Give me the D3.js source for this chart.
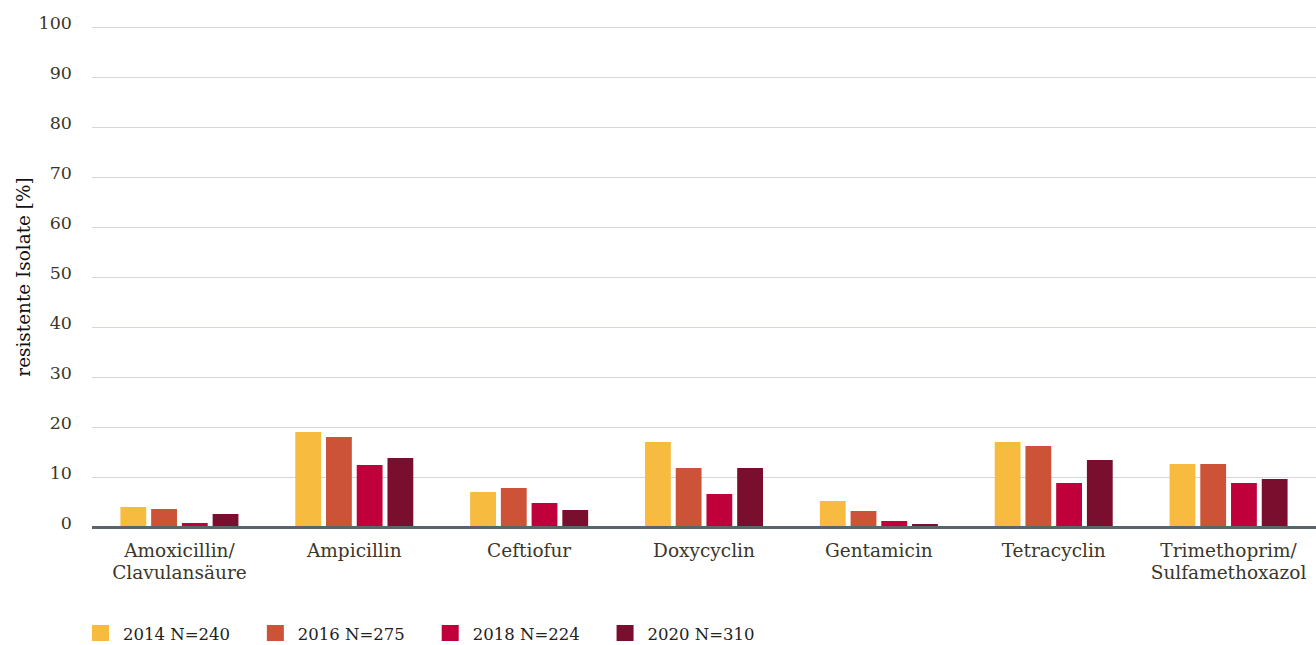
<!DOCTYPE html>
<html>
<head>
<meta charset="utf-8">
<script src="https://cdn.jsdelivr.net/npm/d3@7"></script>
<style>
  body { margin: 0; background: #fff; }
  svg { display: block; font-family: "DejaVu Serif", serif; }
  .tick text { fill: #3b3728; }
  .grid-line { stroke: #d3d6da; stroke-width: 1; }
</style>
</head>
<body>
<svg id="chart" width="1316" height="645"></svg>
<script>
const categories = ["Amoxicillin/\nClavulansäure", "Ampicillin", "Ceftiofur", "Doxycyclin", "Gentamicin", "Tetracyclin", "Trimethoprim/\nSulfamethoxazol"];
const years = ["2014 N=240", "2016 N=275", "2018 N=224", "2020 N=310"];
const colors = ["#f6bb3f", "#cc5238", "#c0003a", "#7a0e2e"];
const v2014 = [4.0, 19.0, 7.0, 17.0, 5.2, 17.0, 12.6];
const v2016 = [3.6, 18.0, 7.8, 11.8, 3.2, 16.2, 12.6];
const v2018 = [0.8, 12.4, 4.8, 6.6, 1.2, 8.8, 8.8];
const v2020 = [2.6, 13.8, 3.4, 11.8, 0.6, 13.4, 9.6];
const yTicks = [0, 10, 20, 30, 40, 50, 60, 70, 80, 90, 100];

const series = [v2014, v2016, v2018, v2020];
const data = categories.map((c, i) => ({ cat: c, values: series.map((s, j) => ({ key: years[j], value: s[i], color: colors[j] })) }));

const svg = d3.select("#chart");
const m = { top: 27, right: 0, bottom: 118, left: 92 };
const w = 1316, h = 645;

const x0 = d3.scaleBand().domain(categories).range([m.left, w - m.right]);
const bw = x0.bandwidth();
const x1 = d3.scaleBand().domain(years).range([(bw - 118) / 2, (bw + 118) / 2]).paddingInner(0.16);
const y = d3.scaleLinear().domain([0, 100]).range([h - m.bottom, m.top]);

// grid
svg.append("g").attr("class", "grid").attr("transform", `translate(${m.left},0)`)
  .call(d3.axisLeft(y).tickValues(yTicks).tickSize(-(w - m.left - m.right)).tickFormat(""))
  .call((g) => g.select(".domain").remove())
  .selectAll("line").attr("class", "grid-line");

// y axis labels
svg.append("g").attr("transform", `translate(${m.left},0)`)
  .call(d3.axisLeft(y).tickValues(yTicks).tickSize(0).tickPadding(20))
  .call((g) => g.select(".domain").remove())
  .selectAll("text").attr("font-size", 17.5).attr("font-family", "DejaVu Serif").attr("dy", "0.1em");

// bars
svg.append("g").selectAll("g").data(data).join("g")
  .attr("transform", (d) => `translate(${x0(d.cat)},0)`)
  .selectAll("rect").data((d) => d.values).join("rect")
  .attr("x", (d) => x1(d.key))
  .attr("width", x1.bandwidth())
  .attr("y", (d) => y(d.value))
  .attr("height", (d) => y(0) - y(d.value))
  .attr("fill", (d) => d.color);

// baseline
svg.append("line")
  .attr("x1", m.left).attr("x2", w - m.right).attr("y1", y(0) + 0.5).attr("y2", y(0) + 0.5)
  .attr("stroke", "#5b6569").attr("stroke-width", 3);

// x labels
const xl = svg.append("g").selectAll("text").data(categories).join("text")
  .attr("x", (d) => x0(d) + bw / 2)
  .attr("y", y(0) + 30)
  .attr("text-anchor", "middle")
  .attr("font-size", 18.5)
  .attr("fill", "#3b3728");
xl.each(function (d) {
  d.split("\n").forEach((line, i) => {
    d3.select(this).append("tspan").attr("x", x0(d) + bw / 2).attr("dy", i ? 22 : 0).text(line);
  });
});

// y title
svg.append("text")
  .attr("transform", `translate(30,${(y(0) + y(100)) / 2}) rotate(-90)`)
  .attr("text-anchor", "middle")
  .attr("font-size", 18.4)
  .attr("fill", "#111")
  .text("resistente Isolate [%]");

// legend
const lg = svg.append("g").attr("transform", `translate(${m.left},625)`);
years.forEach((k, i) => {
  const e = lg.append("g").attr("transform", `translate(${i * bw},0)`);
  e.append("rect").attr("width", 17).attr("height", 16).attr("fill", colors[i]);
  e.append("text").attr("x", 31).attr("y", 15).attr("font-size", 16.5).attr("fill", "#222").text(k);
});
</script>
</body>
</html>
